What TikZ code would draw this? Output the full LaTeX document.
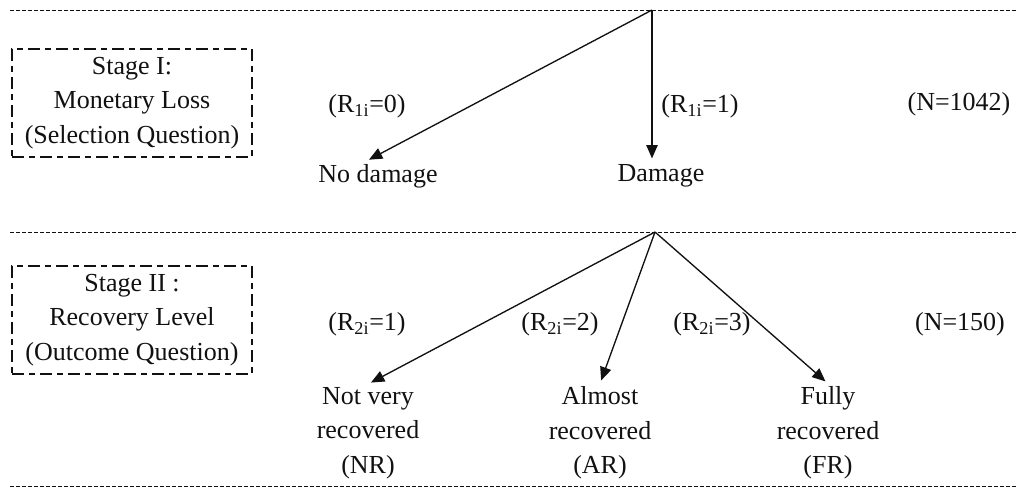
\documentclass[tikz,border=0pt]{standalone}
\usepackage{fontspec}
\setmainfont{Liberation Serif}
\usetikzlibrary{arrows.meta,positioning,calc}
\definecolor{Ink}{HTML}{111111}
\tikzset{
  stagebox/.style={draw=Ink,line width=0.8pt,dash pattern=on 9pt off 4pt on 4pt off 4pt,minimum width=180pt,minimum height=81pt,align=center,inner sep=0pt,text=Ink},
  leaf/.style={align=center,inner sep=2pt,text=Ink},
  cond/.style={text=Ink,inner sep=0pt},
  rule/.style={draw=Ink,line width=0.7pt,dash pattern=on 3pt off 1.5pt},
  branch/.style={-{Triangle[length=10pt,width=8.5pt]},line width=1pt,draw=Ink,shorten >=2.5pt}
}
\begin{document}
\begin{tikzpicture}[x=0.75pt,y=-0.75pt,font=\fontsize{19.5}{26}\selectfont]
\useasboundingbox (0,0) rectangle (1020,489);
\draw[rule] (10,10) -- (1016,10);
\draw[rule] (10,232) -- (1016,232);
\draw[rule] (10,486) -- (1016,486);
\coordinate (root1) at (652,10);
\coordinate (root2) at (655,232);

\node[stagebox] (stage1) at (132,103) {Stage I:\\Monetary Loss\\(Selection Question)};
\node[cond] (r10) at (367,106) {(R\textsubscript{1i}=0)};
\node[cond] (r11) at (700,106) {(R\textsubscript{1i}=1)};
\node[cond] (n1) at (959,104) {(N=1042)};
\node[leaf] (nodmg) at (378,176) {No damage};
\node[leaf] (dmg) at (661,176) {Damage};
\draw[branch] (root1) -- ($(nodmg.north)+(-12,0)$);
\draw[branch] (root1) -- (root1 |- dmg.north);

\node[stagebox] (stage2) at (132,320) {Stage II :\\Recovery Level\\(Outcome Question)};
\node[cond] (r21) at (367,324) {(R\textsubscript{2i}=1)};
\node[cond] (r22) at (560,324) {(R\textsubscript{2i}=2)};
\node[cond] (r23) at (712,324) {(R\textsubscript{2i}=3)};
\node[cond] (n2) at (960,324) {(N=150)};
\node[leaf] (nr) at (368,433) {Not very\\recovered\\(NR)};
\node[leaf] (ar) at (600,433) {Almost\\recovered\\(AR)};
\node[leaf] (fr) at (828,433) {Fully\\recovered\\(FR)};
\draw[branch] (root2) -- (nr.north);
\draw[branch] (root2) -- (ar.north);
\draw[branch] (root2) -- (fr.north);
\end{tikzpicture}
\end{document}
